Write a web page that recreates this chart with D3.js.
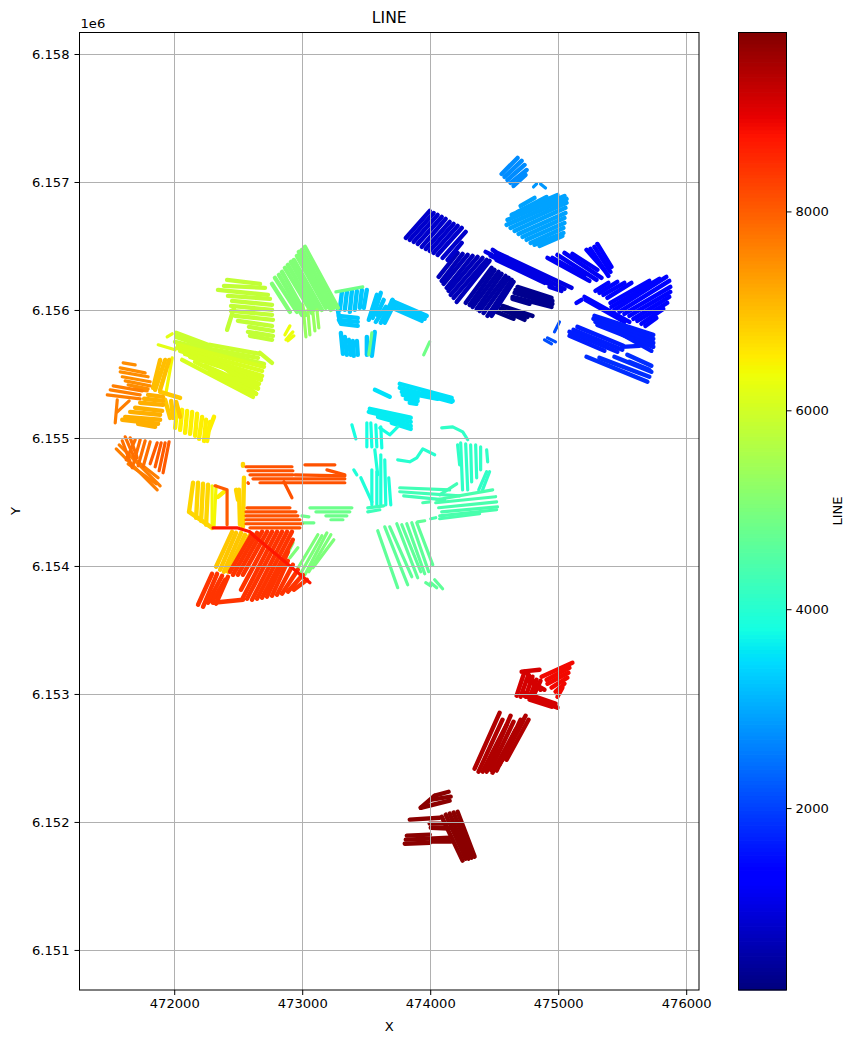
<!DOCTYPE html>
<html><head><meta charset="utf-8">
<style>html,body{margin:0;padding:0;background:#fff}svg{display:block}text{font-family:"DejaVu Sans",sans-serif;fill:#000}</style>
<script src="https://cdn.jsdelivr.net/npm/d3@7"></script></head><body>
<svg id="c" width="860" height="1043"></svg>
<script>
// Tick values and labels
const xTicks = [472000,473000,474000,475000,476000];
const yTicks = [6151000,6152000,6153000,6154000,6155000,6156000,6157000,6158000];
const colorTicks = [2000,4000,6000,8000];
const xDomain = [471260,476100];
const yDomain = [6150687,6158168];
const lineDomain = [171,9799];
// Survey coordinates: metres east of 470000 and north of 6150000.
const eastBase = 470000, northBase = 6150000;
// Each entry: LINE value, then the tracks flown at that value (x,y,x,y...).
const surveyBlocks = [
[200,[4519,5985,4651,5931],[4550,6009,4737,5923],[4565,6032,4799,5954],[4620,6001,4760,5946]],
[300,[4682,6180,4948,6095],[4667,6157,4955,6071],[4659,6134,4955,6048],[4643,6102,4948,6024],[4643,6087,4776,6048]],
[480,[4277,6056,4480,6329],[4308,6040,4503,6313],[4331,6024,4534,6298],[4363,6008,4558,6282],[4386,5993,4589,6266],[4417,5977,4612,6251],[4448,5954,4636,6235],[4480,5954,4651,6220]],
[650,[4066,6259,4214,6446],[4090,6227,4253,6438],[4105,6204,4292,6431],[4129,6173,4331,6423],[4144,6149,4370,6415],[4160,6118,4409,6407],[4183,6095,4441,6391],[4207,6063,4464,6384]],
[800,[3809,6563,3996,6774],[3840,6548,4027,6758],[3871,6532,4058,6743],[3902,6516,4090,6727],[3934,6493,4121,6712],[3965,6477,4152,6688],[3996,6462,4183,6673],[4027,6446,4214,6657],[4058,6430,4246,6641],[4097,6407,4277,6610],[4136,6391,4246,6524]],
[1000,[4433,6454,4480,6431],[4488,6470,4511,6454],[4526,6446,5104,6173],[4511,6431,5049,6165],[4472,6423,4948,6196],[4519,6391,4893,6212],[4932,6181,5026,6149]],
[1150,[4916,6407,5244,6227],[4994,6431,5299,6235],[5049,6446,5338,6251],[4955,6407,5205,6266],[5111,6438,5306,6313]],
[1250,[5221,6470,5361,6313],[5252,6477,5392,6266],[5283,6493,5408,6298],[5306,6516,5416,6337]],
[1400,[5291,6149,5392,6212],[5322,6134,5462,6220],[5353,6118,5517,6212],[5384,6095,5572,6212],[5408,6056,5712,6227],[5416,6024,5790,6243],[5439,6001,5845,6259],[5478,5985,5868,6227],[5517,5970,5876,6181],[5556,5954,5876,6141],[5587,5931,5868,6102],[5618,5915,5852,6056],[5650,5892,5821,6009],[5681,5876,5767,5938],[5205,6102,5556,5907],[5143,6056,5182,6079],[5213,6079,5517,5907]],
[1650,[5283,5954,5743,5806],[5275,5931,5743,5774],[5291,5907,5743,5743],[5306,5884,5743,5712],[5478,5821,5728,5681],[5150,5868,5509,5720],[5119,5845,5501,5689],[5088,5829,5462,5673],[5088,5798,5361,5681],[5501,5712,5634,5720]],
[1800,[5221,5634,5697,5439],[5322,5626,5712,5478],[5439,5634,5728,5517],[5540,5650,5728,5564],[5556,5595,5712,5532]],
[2100,[5010,5907,4971,5829],[4893,5767,4948,5736],[4916,5782,4979,5751]],
[2700,[4558,7063,4682,7188],[4581,7040,4714,7165],[4604,7016,4737,7133],[4628,6993,4753,7094],[4651,6969,4745,7055]],
[2800,[4807,6961,4831,6985],[4862,6985,4901,6953]],
[2900,[4706,6813,4815,6876],[4682,6766,4909,6883],[4636,6743,4994,6899],[4604,6704,5049,6891],[4597,6665,5065,6868],[4628,6641,5065,6837],[4659,6618,5057,6798],[4690,6594,5057,6758],[4721,6571,5049,6719],[4753,6548,5049,6680],[4784,6524,5041,6641],[4815,6509,5041,6602],[4854,6501,5033,6579]],
[3250,[3294,6001,3310,6141],[3333,6001,3349,6141],[3372,5985,3388,6149],[3411,6001,3427,6149],[3450,6017,3466,6157],[3481,6017,3505,6157],[3286,5954,3434,5938],[3286,5923,3434,5907],[3302,5892,3434,5876],[3278,6001,3294,5907],[3520,5923,3583,6118],[3551,5938,3614,6134],[3583,5962,3637,6079],[3700,6071,3973,5954],[3723,6040,3957,5931],[3707,6016,3934,5915],[3614,5900,3707,6079],[3645,5900,3723,6056],[3575,5907,3653,6024],[3302,5821,3318,5657],[3333,5790,3349,5650],[3364,5767,3380,5650],[3395,5759,3403,5642],[3427,5759,3434,5650],[3505,5790,3505,5650],[3567,5829,3544,5642]],
[3500,[3762,5423,4168,5313],[3762,5392,4168,5283],[3778,5360,4058,5306],[3785,5337,3902,5314],[3809,5306,3902,5290],[3840,5275,3892,5267],[3957,5353,4176,5290],[3568,5376,3684,5322]],
[3600,[3528,5228,3848,5158],[3520,5204,3848,5126],[3592,5165,3848,5095],[3700,5118,3848,5071]],
[3800,[3606,5079,3684,5025,3746,5087],[3388,5103,3419,4993],[3505,5118,3505,4931],[3536,5118,3544,4931],[3575,5103,3583,4931],[3614,5087,3622,4923]],
[3900,[3403,4751,3427,4712],[3458,4689,3544,4501],[3544,4751,3544,4478],[3583,4736,3583,4478],[3614,4869,3614,4470],[3645,4830,3653,4478],[3676,4689,3692,4478],[3567,4908,3590,4713]],
[4000,[3746,4829,3840,4814,3895,4845,3942,4915,4035,4869]],
[4100,[4090,5079,4176,5087,4254,5048,4293,4986],[4214,4946,4230,4790],[4238,4962,4253,4595],[4277,4954,4293,4595],[4316,4946,4324,4657],[4355,4946,4363,4689],[4394,4931,4394,4751],[4441,4907,4449,4814],[4464,4736,4409,4595],[4441,4736,4379,4595]],
[4250,[3512,4454,3637,4470],[3512,4423,3606,4439]],
[4300,[3762,4611,4152,4595],[3762,4580,4230,4548],[3793,4548,4113,4517],[4074,4556,4207,4642]],
[4400,[4051,4517,4488,4595],[4043,4494,4511,4541],[4066,4455,4519,4501],[4090,4423,4526,4462],[4074,4392,4519,4439],[4074,4369,4386,4408],[4004,4369,4043,4377],[3942,4494,3996,4501]],
[4650,[3590,4275,3746,3830],[3645,4306,3824,3853],[3684,4306,3856,3916],[3739,4330,3902,3908],[3778,4322,3926,3955],[3817,4330,3957,3939],[3856,4338,3988,3955],[3895,4338,4020,4009],[3902,4345,3957,4353],[3965,3869,4004,3845],[4035,3892,4097,3822],[4004,3869,4051,3830]],
[4800,[3060,4454,3388,4454],[3107,4423,3372,4423],[3185,4392,3349,4392],[3224,4361,3318,4361],[2998,4392,3052,4384],[3005,4337,3091,4337]],
[4850,[3263,6141,3473,6180],[3544,5821,3520,5650],[3996,5751,3949,5649]],
[5000,[3021,3931,3193,4259],[3052,3955,3224,4244],[3083,3986,3247,4205],[2982,3931,3154,4236],[2959,3970,3122,4244],[2873,4072,2928,4181],[2904,4064,2966,4142]],
[5050,[3021,6493,3278,6017],[2998,6470,3247,6017],[2974,6454,3224,6001],[2959,6423,3185,6017],[2935,6391,3154,6001],[2912,6376,3122,6001],[2888,6352,3091,6001],[2865,6329,3076,5977],[2842,6298,3029,5962],[2818,6274,2998,5962],[2787,6251,2959,5985],[2764,6204,2904,5985]],
[5300,[3005,6040,3029,5790],[3044,6001,3060,5806],[3083,5985,3099,5837],[3115,6001,3130,5860]],
[5800,[2413,6235,2670,6204],[2389,6188,2709,6173],[2342,6157,2732,6118],[2420,6110,2748,6087],[2452,6071,2764,6040],[2444,6032,2764,6001],[2444,5993,2764,5962],[2475,5954,2771,5923],[2498,5915,2764,5876],[2584,5868,2771,5837],[2576,5829,2771,5798],[2592,5798,2764,5767],[2413,5845,2467,6017]],
[5900,[2015,5821,2264,5728],[2015,5790,2264,5704],[2280,5728,2670,5657],[2280,5696,2654,5626],[2670,5665,2764,5587],[2007,5751,2701,5579]],
[6050,[2030,5728,2701,5556],[2023,5704,2686,5524],[2046,5681,2686,5486],[2085,5657,2678,5470],[2124,5634,2678,5454],[2062,5610,2615,5321],[2202,5634,2662,5423],[2319,5595,2654,5392],[2374,5563,2639,5345],[2241,5564,2654,5384],[2163,5595,2639,5345],[2280,5517,2608,5329],[2358,5486,2654,5423]],
[6200,[1875,5728,2007,5689],[1945,5790,1984,5814]],
[6300,[2865,5806,2904,5876],[2873,5767,2927,5829],[2888,5759,2935,5798]],
[6400,[2296,4626,2296,4298],[2327,4626,2311,4306],[1984,5626,1937,5360]],
[6500,[2023,5235,2007,5079],[2062,5220,2046,5063],[2101,5212,2085,5040],[2140,5204,2124,5032],[2179,5189,2163,5017],[2218,5165,2194,4993],[2249,5142,2233,4977],[2280,5126,2257,4977],[2311,5165,2272,5063],[2342,4540,2389,4579]],
[6750,[2147,4650,2116,4423],[2116,4423,2296,4298],[2186,4650,2171,4376],[2225,4642,2210,4353],[2264,4634,2249,4322],[2545,4689,2537,4306],[2506,4595,2514,4322],[2483,4595,2498,4517],[2537,4798,2537,4783]],
[6900,[2327,3994,2452,4267],[2358,3970,2483,4259],[2389,3955,2522,4259],[2420,3955,2553,4244],[2452,3986,2592,4244],[1890,5360,2046,5313],[1929,5298,1968,5157],[1976,5290,1991,5157],[2015,5282,2046,5165]],
[7000,[1929,5610,1851,5376],[1890,5610,1835,5391],[1960,5610,1890,5376]],
[7150,[1796,5337,1913,5321],[1765,5306,1913,5290],[1734,5275,1913,5259],[1695,5236,1906,5212],[1656,5204,1890,5181],[1617,5165,1890,5142],[1594,5142,1874,5111],[1718,5111,1851,5087]],
[7500,[1601,5587,1695,5571],[1578,5548,1773,5509],[1578,5517,1796,5478],[1594,5478,1812,5439],[1617,5446,1812,5407],[1640,5415,1796,5384],[1687,5384,1789,5368]],
[7650,[1523,5407,1750,5368],[1500,5376,1734,5337],[1477,5337,1734,5306],[1539,5118,1555,5298],[1555,5204,1648,5290],[1547,4915,1867,4595],[1570,4946,1890,4626],[1640,4798,1859,4642],[1695,4829,1874,4689]],
[7800,[1695,4986,1625,4829],[1734,4986,1679,4790],[1773,4978,1718,4783],[1812,4970,1757,4775],[1617,5009,1695,4829],[1656,5001,1711,4845],[1594,4978,1672,4767]],
[8000,[1867,4962,1812,4798],[1898,4962,1851,4775],[1929,4962,1882,4744],[1960,4970,1913,4728],[2319,4626,2413,4595,2413,4322]],
[8100,[2561,4775,2920,4775],[2576,4744,2927,4744],[2592,4712,2927,4712],[2615,4681,3333,4681],[2670,4650,3333,4650],[3021,4790,3255,4790],[3193,4751,3333,4712],[2943,4712,3333,4704],[2576,4650,2580,4646],[2569,4454,2904,4454],[2561,4423,2951,4423],[2561,4392,2966,4392],[2561,4361,2982,4361],[2561,4330,2998,4330],[2592,4298,2982,4298],[2857,4658,2920,4533]],
[8400,[2608,4251,2436,3955],[2647,4259,2459,3931],[2686,4267,2498,3931],[2725,4267,2537,3931],[2764,4267,2522,3814],[2803,4267,2537,3752],[2842,4267,2569,3744],[2881,4267,2608,3736],[2920,4267,2647,3744],[2927,4205,2686,3752],[2888,4111,2725,3760],[2888,4041,2764,3767],[2927,4009,2803,3775],[2966,3970,2842,3783],[3005,3931,2888,3799],[3037,3892,2935,3814],[2186,3697,2296,3939],[2225,3681,2335,3939],[2264,3713,2374,3923],[2296,3720,2397,3892],[2327,3705,2420,3916],[2303,3713,2537,3736]],
[8700,[2303,4298,2491,4298,2592,4267,2631,4228,2865,4033,3060,3869]],
[8850,[4909,3111,5088,3205],[4870,3135,5111,3244],[4916,3080,5080,3166],[4948,3049,5072,3127],[4979,3018,5049,3080],[4994,2978,5033,3049]],
[9100,[4675,2986,4737,3174],[4706,2978,4768,3150],[4745,2978,4799,3135],[4776,2971,4831,3111],[4807,2986,4862,3103],[4714,2994,4994,2893],[4729,3010,4979,2924],[4776,2955,4948,2900],[4714,3174,4854,3189],[4753,3166,4862,3033],[4753,3111,4893,3033]],
[9400,[4347,2416,4542,2853],[4378,2393,4565,2799],[4409,2393,4597,2760],[4441,2393,4628,2830],[4472,2408,4651,2783],[4487,2385,4667,2721],[4519,2401,4706,2799],[4542,2447,4722,2783],[4565,2486,4745,2830],[4597,2486,4768,2799]],
[9700,[4090,2041,4253,1698],[4121,2057,4277,1713],[4152,2065,4300,1713],[4183,2073,4324,1721],[4214,2080,4347,1729],[3840,2018,4074,2033],[3996,1987,4129,1987],[4004,1955,4144,1948],[4019,1954,4160,1954],[3809,1862,4152,1877],[3801,1830,3996,1838],[4004,1846,4160,1846],[3817,1893,3996,1901],[3926,2111,4152,2166],[4035,2205,4144,2236],[4012,2174,4160,2198],[3926,2111,4035,2205]]
];
// Blocks flown so tightly that neighbouring tracks merge.
const denseBlocks = [200,300,480,650,800,1000,1150,1250,1400,1650,1800,2700,2900,3250,3500,3600,5050,5800,5900,6050,6500,6750,6900,7000,7150,8400,8850,9100,9400,9700];
const jetRed = [[0,0],[.35,0],[.66,1],[.89,1],[1,.5]];
const jetGreen = [[0,0],[.125,0],[.375,1],[.64,1],[.91,0],[1,0]];
const jetBlue = [[0,.5],[.11,1],[.34,1],[.65,0],[1,0]];

const box = {left:79.5,right:699,top:32.5,bottom:990};
const bar = {left:738.5,right:786.5};
const svg = d3.select("#c");
const x = d3.scaleLinear().domain(xDomain).range([box.left,box.right]);
const y = d3.scaleLinear().domain(yDomain).range([box.bottom,box.top]);
const cb = d3.scaleLinear().domain(lineDomain).range([box.bottom,box.top]);
const chan = a => d3.scaleLinear().domain(a.map(d=>d[0])).range(a.map(d=>d[1])).clamp(true);
const R=chan(jetRed),G=chan(jetGreen),B=chan(jetBlue);
const tOf = d3.scaleLinear().domain(lineDomain).range([0,1]);
const jet = v => {const t=tOf(v);return d3.rgb(R(t)*255,G(t)*255,B(t)*255).formatHex();};
const FS=13.1;

// points
const tracks = surveyBlocks.flatMap(b=>b.slice(1).map(t=>({v:b[0],t})));
const line = d3.line().x(d=>x(d[0]+eastBase)).y(d=>y(d[1]+northBase));
const pairs = t => d3.range(0,t.length,2).map(i=>[t[i],t[i+1]]);
svg.append("defs").append("clipPath").attr("id","pa").append("rect").attr("x",box.left).attr("y",box.top).attr("width",box.right-box.left).attr("height",box.bottom-box.top);
svg.append("g").attr("clip-path","url(#pa)").attr("fill","none").attr("stroke-linecap","round").attr("stroke-linejoin","round")
 .selectAll("path").data(tracks).join("path").attr("d",d=>line(pairs(d.t))).attr("stroke",d=>jet(d.v))
 .attr("stroke-width",d=>denseBlocks.includes(d.v)?4.4:3.2);

// grid above points
const grid = svg.append("g").attr("stroke","#b0b0b0").attr("stroke-width",1);
grid.selectAll(".gx").data(xTicks).join("line").attr("x1",d=>Math.round(x(d))+.5).attr("x2",d=>Math.round(x(d))+.5).attr("y1",box.top).attr("y2",box.bottom);
grid.selectAll(".gy").data(yTicks).join("line").attr("y1",d=>Math.round(y(d))+.5).attr("y2",d=>Math.round(y(d))+.5).attr("x1",box.left).attr("x2",box.right);

// axes
function style(g){g.selectAll("text").attr("font-size",FS).attr("font-family","DejaVu Sans").attr("fill","#000");g.selectAll("line").attr("stroke","#000").attr("stroke-width",1);g.select(".domain").remove();}
svg.append("g").attr("transform",`translate(0,${box.bottom})`).call(d3.axisBottom(x).tickValues(xTicks).tickFormat(d3.format("d")).tickSize(5).tickPadding(4)).call(style);
svg.append("g").attr("transform",`translate(${box.left},0)`).call(d3.axisLeft(y).tickValues(yTicks).tickFormat(d=>d3.format(".3f")(d/1e6)).tickSize(5).tickPadding(5)).call(style);
svg.append("rect").attr("x",box.left).attr("y",box.top).attr("width",box.right-box.left).attr("height",box.bottom-box.top).attr("fill","none").attr("stroke","#000").attr("stroke-width",1);
const label=(t,px,py,fs,rot)=>svg.append("text").text(t).attr("font-size",fs).attr("text-anchor","middle").attr("transform",`translate(${px},${py})`+(rot?" rotate(-90)":""));
label("LINE",(box.left+box.right)/2,23,15.6);
label("X",(box.left+box.right)/2,1031,FS);
label("Y",20,511,FS,true);
svg.append("text").text("1e6").attr("x",80.5).attr("y",28).attr("font-size",FS);

// colorbar
const levels = d3.range(lineDomain[0],lineDomain[1]+1,(lineDomain[1]-lineDomain[0])/256);
svg.append("g").selectAll("rect").data(levels).join("rect").attr("x",bar.left).attr("width",bar.right-bar.left)
 .attr("y",d=>cb(d)-4).attr("height",4.5).attr("fill",d=>jet(d));
svg.append("rect").attr("x",bar.left-1).attr("y",box.top-5).attr("width",bar.right-bar.left+2).attr("height",5).attr("fill","#fff");
svg.append("rect").attr("x",bar.left).attr("y",box.top).attr("width",bar.right-bar.left).attr("height",box.bottom-box.top).attr("fill","none").attr("stroke","#000").attr("stroke-width",1);
svg.append("g").attr("transform",`translate(${bar.right},0)`).call(d3.axisRight(cb).tickValues(colorTicks).tickFormat(d3.format("d")).tickSize(5).tickPadding(4)).call(style);
label("LINE",842,511,FS,true);
</script></body></html>
